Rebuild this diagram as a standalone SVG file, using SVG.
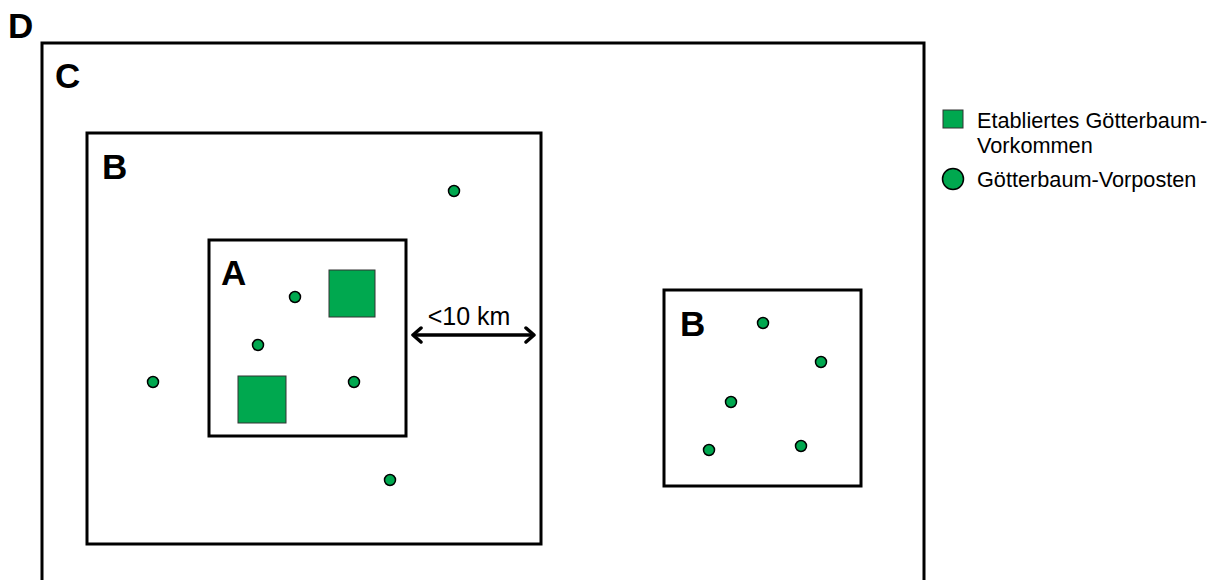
<svg xmlns="http://www.w3.org/2000/svg" width="1218" height="580" viewBox="0 0 1218 580">
<style>
.box{fill:#fff;stroke:#000;stroke-width:3}
.lbl{font-family:"Liberation Sans",Arial,sans-serif;font-weight:bold;font-size:35px;fill:#000}
.txt{font-family:"Liberation Sans",Arial,sans-serif;font-size:21.7px;fill:#000}
.sq{fill:#00a84f;stroke:#333;stroke-width:1}
.dot{fill:#00a84f;stroke:#000;stroke-width:1.5}
</style>
<defs>
<marker id="ah" viewBox="-11 -9 13 18" refX="0" refY="0" markerWidth="13" markerHeight="18" orient="auto-start-reverse" markerUnits="userSpaceOnUse">
<path d="M-8,-7 L0,0 L-8,7" fill="none" stroke="#000" stroke-width="3.5" stroke-linecap="round" stroke-linejoin="round"/>
</marker>
</defs>
<rect width="1218" height="580" fill="#fff"/>
<g id="D"><text class="lbl" x="8" y="38">D</text></g>
<g id="C">
<path d="M42,585 V43 H924 V585" class="box"/>
<text class="lbl" x="55" y="88">C</text>
</g>
<g id="B1">
<rect class="box" x="87" y="133" width="454" height="411"/>
<text class="lbl" x="102" y="179">B</text>
</g>
<g id="A">
<rect class="box" x="209" y="240" width="197" height="196"/>
<text class="lbl" x="221" y="285">A</text>
<rect class="sq" x="329" y="270" width="46" height="47"/>
<rect class="sq" x="238" y="376" width="48" height="47"/>
<circle class="dot" cx="295" cy="297" r="5.5"/>
<circle class="dot" cx="258" cy="345" r="5.5"/>
<circle class="dot" cx="354" cy="382" r="5.5"/>
</g>
<g id="B1-outposts">
<circle class="dot" cx="153" cy="382" r="5.5"/>
<circle class="dot" cx="454" cy="191" r="5.5"/>
<circle class="dot" cx="390" cy="480" r="5.5"/>
</g>
<g id="B2">
<rect class="box" x="664" y="290" width="197" height="196"/>
<text class="lbl" x="680" y="336">B</text>
<circle class="dot" cx="763" cy="323" r="5.5"/>
<circle class="dot" cx="821" cy="362" r="5.5"/>
<circle class="dot" cx="731" cy="402" r="5.5"/>
<circle class="dot" cx="709" cy="450" r="5.5"/>
<circle class="dot" cx="801" cy="446" r="5.5"/>
</g>
<g id="connectors">
<line x1="413" y1="335" x2="534" y2="335" stroke="#000" stroke-width="3.5" marker-start="url(#ah)" marker-end="url(#ah)"/>
<text class="txt" x="469" y="325" text-anchor="middle" style="font-size:25px">&lt;10 km</text>
</g>
<g id="legend">
<rect class="sq" x="943" y="110" width="20" height="18"/>
<text class="txt" x="977" y="128">Etabliertes Götterbaum-</text>
<text class="txt" x="977" y="153">Vorkommen</text>
<circle class="dot" cx="953" cy="179" r="10.5"/>
<text class="txt" x="977" y="187">Götterbaum-Vorposten</text>
</g>
</svg>
